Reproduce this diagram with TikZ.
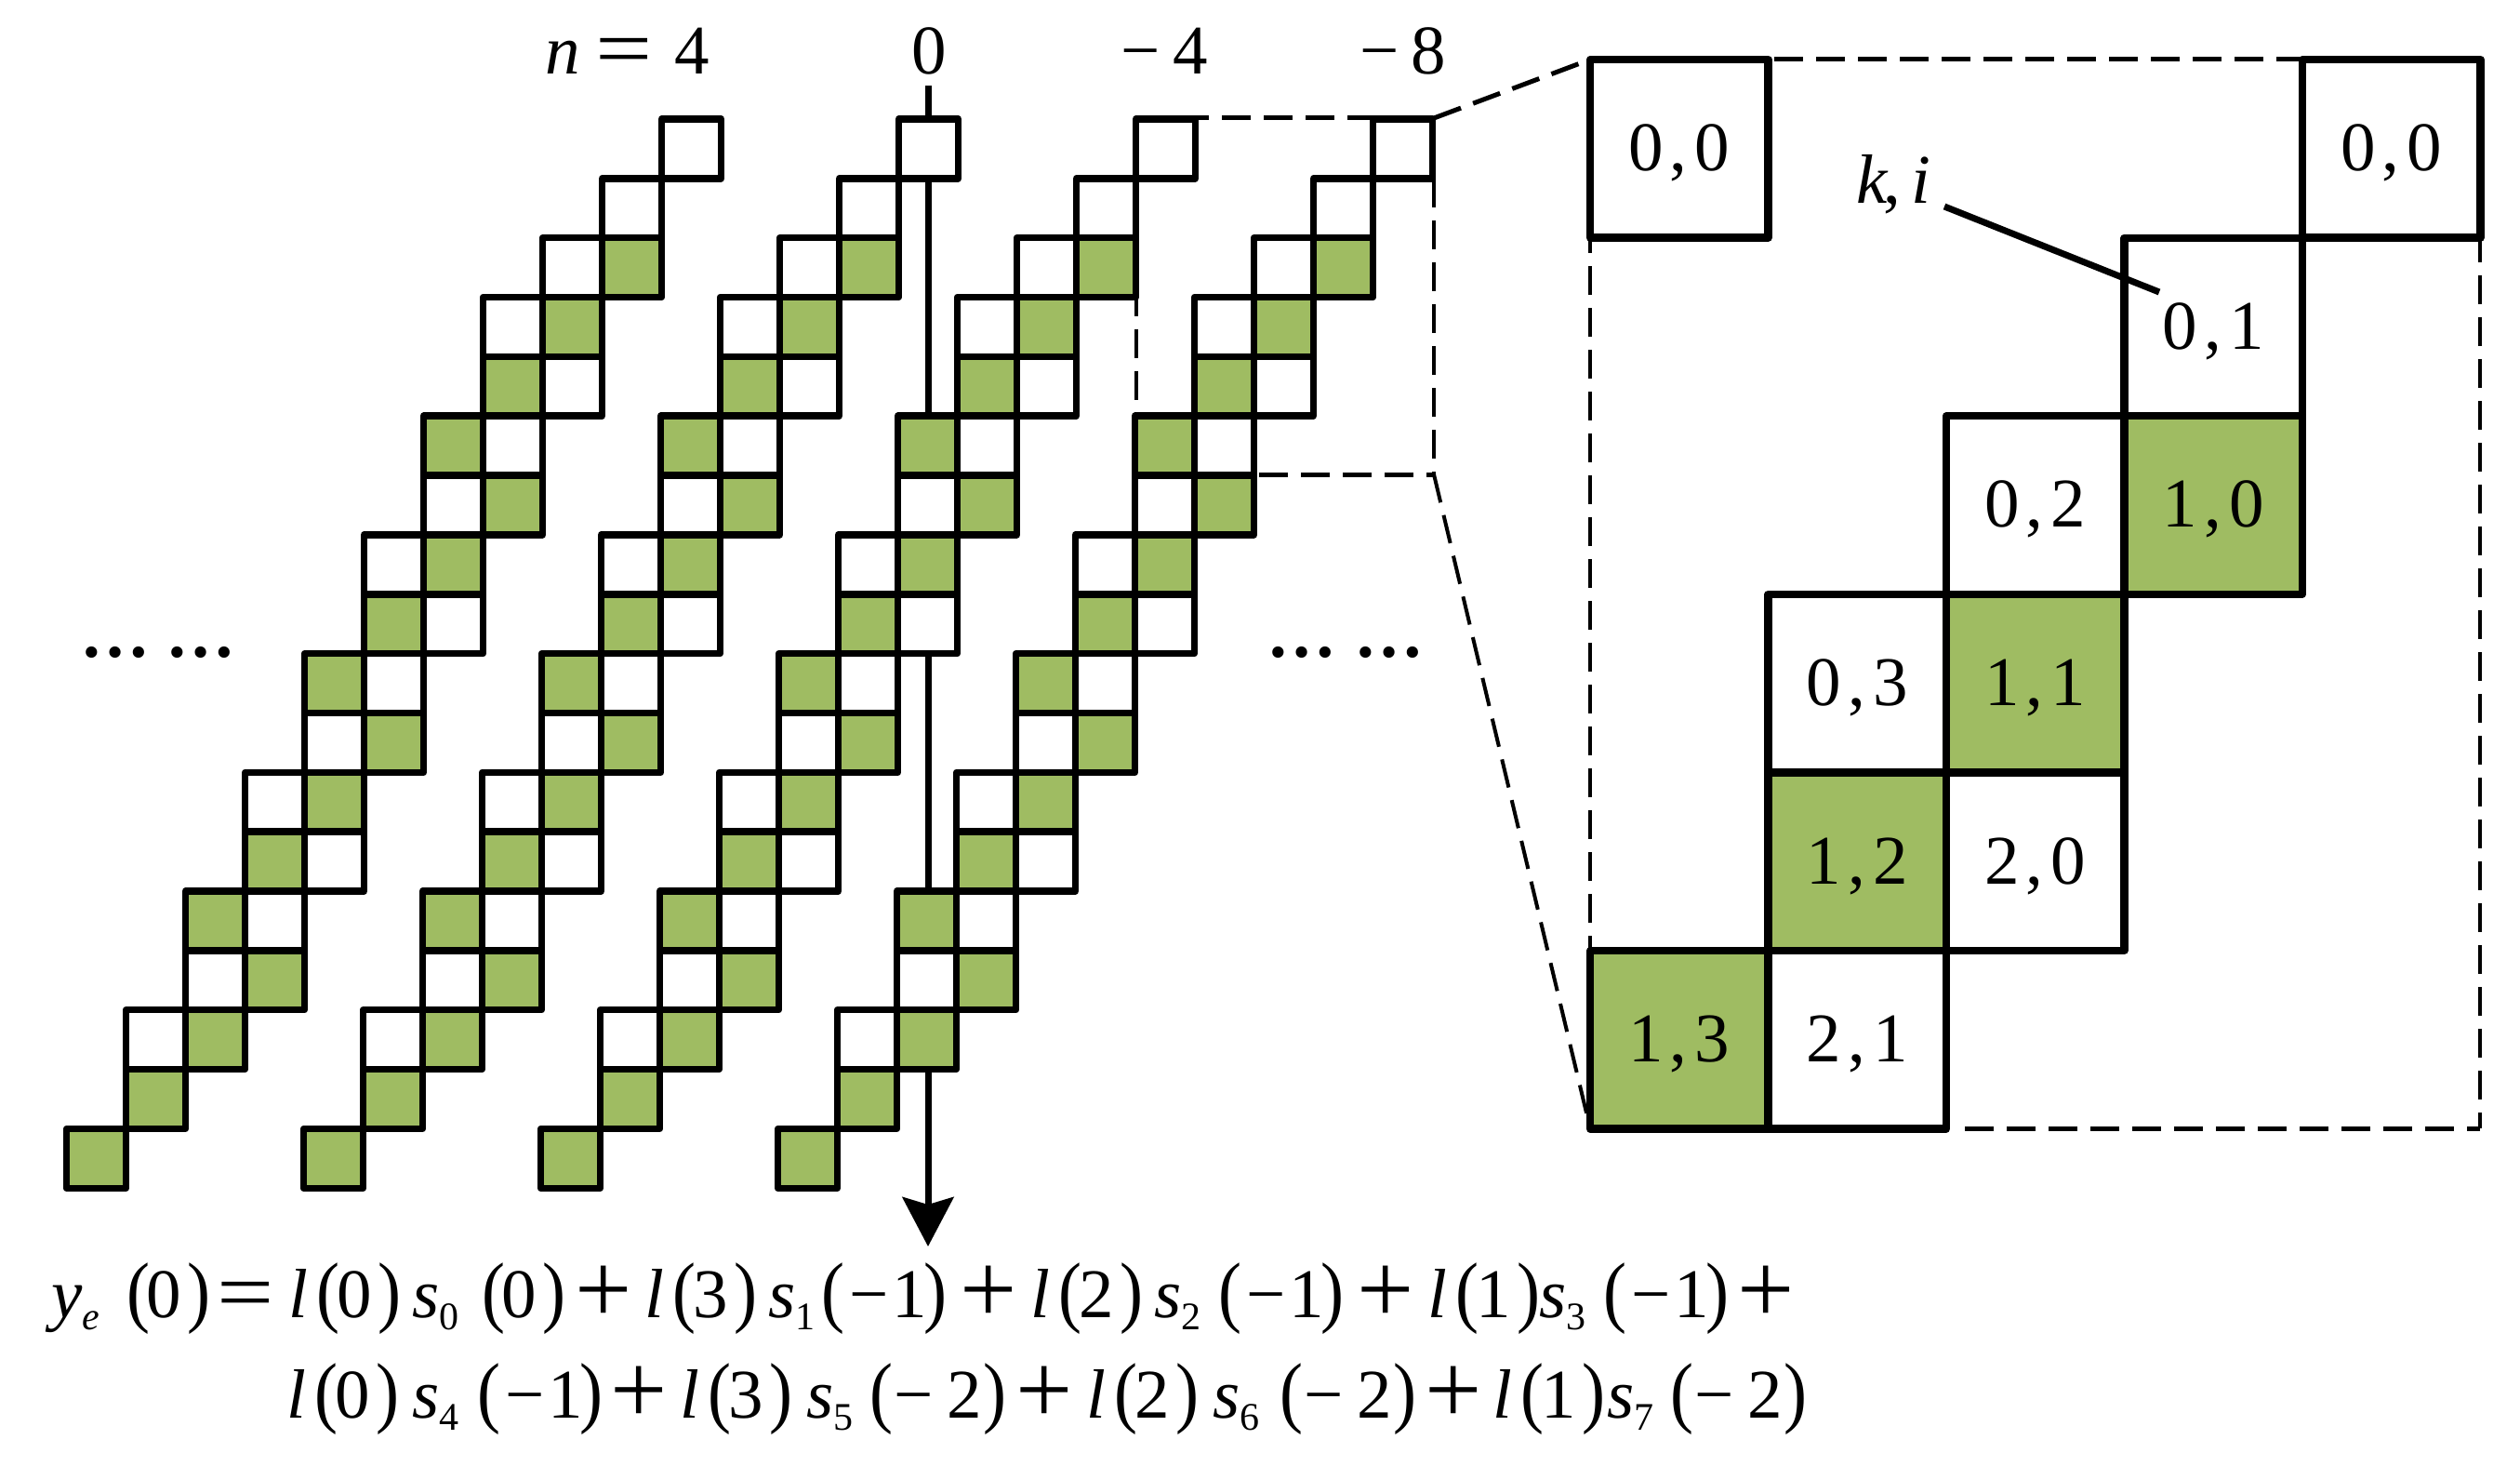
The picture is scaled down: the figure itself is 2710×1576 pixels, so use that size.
\documentclass[tikz,border=0pt]{standalone}
\usepackage{graphicx}
\usepackage{fontspec}
\setmainfont{Liberation Serif}
\usetikzlibrary{arrows.meta}
\definecolor{cg}{HTML}{9FBC62}
\newcommand{\lpr}{\scalebox{1}[1.13]{(}}
\newcommand{\rpr}{\scalebox{1}[1.13]{)}}
\newcommand{\plusb}{\raisebox{-6pt}{\scalebox{1.45}{+}}}
\newcommand{\eqb}{\raisebox{-3pt}{\scalebox{1.45}[1.2]{=}}}
\newcommand{\ldig}[1]{\textit{l}\hspace{10pt}\lpr\hspace{-3pt}#1\hspace{6pt}\rpr}
\newcommand{\pdig}[1]{\lpr\hspace{-3pt}#1\hspace{6pt}\rpr}
\newcommand{\argone}{\lpr\hspace{6pt}−\hspace{3pt}1\hspace{-3pt}\rpr}
\newcommand{\argtwo}{\lpr\hspace{2pt}−\hspace{14pt}2\hspace{2pt}\rpr}
\newcommand{\subs}[2]{\textit{#1}\raisebox{-13pt}{\fontsize{42}{50}\selectfont #2}}
\newcommand{\lab}[2]{#1\hspace{7pt},\hspace{8pt}#2}
\tikzset{
  txt/.style={font=\fontsize{75}{90}\selectfont,inner sep=0pt,outer sep=0pt,anchor=base west},
  cell/.style={draw=black,line width=7.5pt,line join=round,minimum width=64pt,minimum height=63.85pt,inner sep=0pt,outer sep=0pt},
  bigcell/.style={draw=black,line width=8.2pt,line join=round,minimum width=191.5pt,minimum height=191.5pt,inner sep=0pt,outer sep=0pt,font=\fontsize{75}{90}\selectfont,text height=48pt,text depth=0pt},
  dashthick/.style={line width=5pt,dash pattern=on 31pt off 14pt},
  dashthin/.style={line width=4pt,dash pattern=on 31pt off 14pt},
  leader/.style={line width=7pt},
  probe/.style={line width=7pt,-{Stealth[length=53pt,width=55pt,inset=8pt]}}
}
\begin{document}
\begin{tikzpicture}[x=1pt,y=-1pt]
\useasboundingbox (0,0) rectangle (2710,1576);
\fill[white] (0,0) rectangle (2710,1576);
% named points of the zoom frame
\coordinate (smTL) at (1542,127);
\coordinate (smTR) at (1269,127);
\coordinate (smTE) at (1477,127);
\coordinate (smRA) at (1542,192);
\coordinate (smBR) at (1542,510);
\coordinate (smBL) at (1354,510);
\coordinate (smLA) at (1222,309);
\coordinate (smLB) at (1222,446);
\coordinate (bgTL) at (1710,64);
\coordinate (bgTA) at (1908,64);
\coordinate (bgTB) at (2476,64);
\coordinate (bgLA) at (1710,241);
\coordinate (bgBL) at (1710,1213);
\coordinate (bgRA) at (2667,251);
\coordinate (bgBR) at (2667,1213);
\coordinate (bgBA) at (2113,1213);
\coordinate (prS) at (998,92);
\coordinate (prE) at (998,1340);
\coordinate (ldA) at (2091,222);
\coordinate (ldB) at (2322,314);
% dashed frames
\draw[dashthick] (smTR) -- (smTE);
\draw[dashthick] (smBL) -- (smBR);
\draw[dashthin] (smRA) -- (smBR);
\draw[dashthin] (smLA) -- (smLB);
\draw[dashthick] (smTL) -- (bgTL);
\draw[dashthin] (smBR) -- (bgBL);
\draw[dashthick] (bgTA) -- (bgTB);
\draw[dashthin] (bgLA) -- (bgBL);
\draw[dashthin] (bgRA) -- (bgBR);
\draw[dashthick] (bgBA) -- (bgBR);
% vertical probe
\draw[probe] (prS) -- (prE);
% four chains of small cells
\foreach \ch/\dx in {0/0,1/255,2/510,3/765}{
  \foreach \r/\c/\f in {0/10/white,1/9/white,2/8/white,2/9/cg,3/7/white,3/8/cg,4/7/cg,4/8/white,5/6/cg,5/7/white,6/6/white,6/7/cg,7/5/white,7/6/cg,8/5/cg,8/6/white,9/4/cg,9/5/white,10/4/white,10/5/cg,11/3/white,11/4/cg,12/3/cg,12/4/white,13/2/cg,13/3/white,14/2/white,14/3/cg,15/1/white,15/2/cg,16/1/cg,17/0/cg}{
    \node[cell,fill=\f] (c\ch-\r-\c) at ({103.5+64*\c+\dx},{128+63.85*\r+31.9}) {};
  }
}
% enlarged cells
\foreach \r/\c/\a/\b/\f/\nm in {0/0/0/0/white/p,0/4/0/0/white/q,1/3/0/1/white/r,2/2/0/2/white/s,2/3/1/0/cg/t,3/1/0/3/white/u,3/2/1/1/cg/v,4/1/1/2/cg/w,4/2/2/0/white/x,5/0/1/3/cg/y,5/1/2/1/white/z}{
  \node[bigcell,fill=\f] (big\nm) at ({1805.75+191.5*\c},{159.75+191.6*\r}) {\lab{\a}{\b}};
}
% k,i label and leader
\node[txt] (ki) at (1996,218) {\textit{k}\hspace{-5pt},\hspace{11pt}\textit{i}};
\draw[leader] (ldA) -- (ldB);
% chain labels
\node[txt] (nA) at (586,80) {\textit{n}};
\node[txt] (nB) at (640,80) {\eqb};
\node[txt] (nC) at (725,80) {4};
\node[txt] (nD) at (980,80) {0};
\node[txt] (nE) at (1205,80) {−\hspace{14pt}4};
\node[txt] (nF) at (1462,80) {−\hspace{13pt}8};
% ellipses
\node[txt] (elA) at (86.5,706) {\textbf{…}\hspace{17pt}\textbf{…}};
\node[txt] (elB) at (1362.5,706) {\textbf{…}\hspace{19pt}\textbf{…}};
% equation, first line
\node[txt] (a0) at (55,1416) {\subs{y}{\textit{e}}};
\node[txt] (a1) at (136,1416) {\pdig{0}};
\node[txt] (a2) at (233,1416) {\eqb};
\node[txt] (a3) at (310,1416) {\ldig{0}};
\node[txt] (a4) at (443,1416) {\subs{s}{0}};
\node[txt] (a5) at (518,1416) {\pdig{0}};
\node[txt] (a6) at (618,1416) {\plusb};
\node[txt] (a7) at (693,1416) {\ldig{3}};
\node[txt] (a8) at (826,1416) {\subs{s}{1}};
\node[txt] (a9) at (883,1416) {\argone};
\node[txt] (a10) at (1032,1416) {\plusb};
\node[txt] (a11) at (1108,1416) {\ldig{2}};
\node[txt] (a12) at (1241,1416) {\subs{s}{2}};
\node[txt] (a13) at (1310,1416) {\argone};
\node[txt] (a14) at (1459,1416) {\plusb};
\node[txt] (a15) at (1535,1416) {\ldig{1}};
\node[txt] (a16) at (1655,1416) {\subs{s}{3}};
\node[txt] (a17) at (1724,1416) {\argone};
\node[txt] (a18) at (1868,1416) {\plusb};
% equation, second line
\node[txt] (b3) at (308,1524) {\ldig{0}};
\node[txt] (b4) at (443,1524) {\subs{s}{4}};
\node[txt] (b5) at (513,1524) {\argone};
\node[txt] (b6) at (656,1524) {\plusb};
\node[txt] (b7) at (731,1524) {\ldig{3}};
\node[txt] (b8) at (867,1524) {\subs{s}{5}};
\node[txt] (b9) at (935,1524) {\argtwo};
\node[txt] (b10) at (1092,1524) {\plusb};
\node[txt] (b11) at (1168,1524) {\ldig{2}};
\node[txt] (b12) at (1304,1524) {\subs{s}{6}};
\node[txt] (b13) at (1376,1524) {\argtwo};
\node[txt] (b14) at (1532,1524) {\plusb};
\node[txt] (b15) at (1605,1524) {\ldig{1}};
\node[txt] (b16) at (1728,1524) {\subs{s}{7}};
\node[txt] (b17) at (1796,1524) {\argtwo};
\end{tikzpicture}
\end{document}
